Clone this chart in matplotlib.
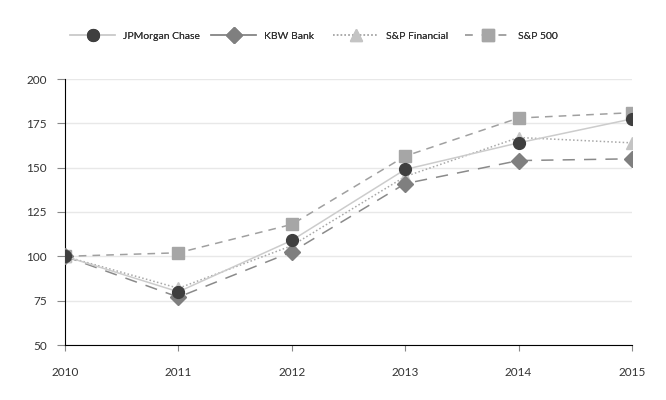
import matplotlib
matplotlib.use('Agg')
import matplotlib.pyplot as plt
from matplotlib.lines import Line2D

plt.rcParams['font.family'] = ['Lato', 'DejaVu Sans']

years = [2010, 2011, 2012, 2013, 2014, 2015]
jpm = [100, 80, 109, 149, 164, 177.5]
kbw = [100, 77, 102.5, 141, 154, 155]
spfin = [100, 82, 106, 145, 167, 164]
sp500 = [100, 102, 118, 156.5, 178, 181]
labels = ['JPMorgan Chase', 'KBW Bank', 'S&P Financial', 'S&P 500']

fig = plt.figure(figsize=(6.66, 4.0), dpi=100)
ax = fig.add_axes([65/666, 1-345/400, (632-65)/666, (345-79)/400])

ax.plot(years, sp500, color='#a0a0a0', ls=(0, (5, 4)), lw=1.1, marker='s', ms=8,
        mfc='#a6a6a6', mec='#a6a6a6', zorder=3)
ax.plot(years, spfin, color='#a8a8a8', ls=(0, (1, 1.5)), lw=1.1, marker='^', ms=8,
        mfc='#c4c4c4', mec='#c4c4c4', zorder=3)
ax.plot(years, kbw, color='#8a8a8a', ls=(0, (8, 6)), lw=1.1, marker='D', ms=8,
        mfc='#7f7f7f', mec='#7f7f7f', zorder=4)
ax.plot(years, jpm, color='#cccccc', ls='-', lw=1.1, marker='o', ms=8.5,
        mfc='#3f3f3f', mec='#3f3f3f', zorder=5)

ax.set_xlim(2010, 2015)
ax.set_ylim(50, 200)
ax.set_xticks(years)
ax.set_yticks([50, 75, 100, 125, 150, 175, 200])
ax.grid(axis='y', color='#e8e8e8', lw=1)
ax.set_axisbelow(True)
for s in ['top', 'right']:
    ax.spines[s].set_visible(False)
ax.spines['left'].set_color('black')
ax.spines['bottom'].set_color('black')
ax.tick_params(axis='y', length=6, width=0.8, color='#888888', labelsize=8.5, labelcolor='#333333', pad=7)
ax.tick_params(axis='x', length=4, width=0.8, color='#888888', labelsize=8.5, labelcolor='#333333', pad=12)

handles = [
    Line2D([], [], color='#cccccc', ls='-', lw=1.1, marker='o', ms=8.5, mfc='#3f3f3f', mec='#3f3f3f'),
    Line2D([], [], color='#8a8a8a', ls='-', lw=1.1, marker='D', ms=8, mfc='#7f7f7f', mec='#7f7f7f'),
    Line2D([], [], color='#a8a8a8', ls=(0, (1, 1.5)), lw=1.1, marker='^', ms=8, mfc='#c4c4c4', mec='#c4c4c4'),
    Line2D([], [], color='#a0a0a0', ls=(0, (5, 6)), lw=1.1, marker='s', ms=8, mfc='#a6a6a6', mec='#a6a6a6'),
]
# each legend entry placed separately to match the reference spacing
starts = [67, 208, 330, 462]
for h, lab, x0 in zip(handles, labels, starts):
    lg = fig.legend([h], [lab], loc='center left', bbox_to_anchor=(x0/666, 1-36/400),
                    frameon=False, fontsize=7.5, handlelength=4.3, handletextpad=0.75,
                    labelcolor='#333333', borderaxespad=0, borderpad=0.3)
    fig.add_artist(lg)

fig.savefig('out.png', dpi=100)
